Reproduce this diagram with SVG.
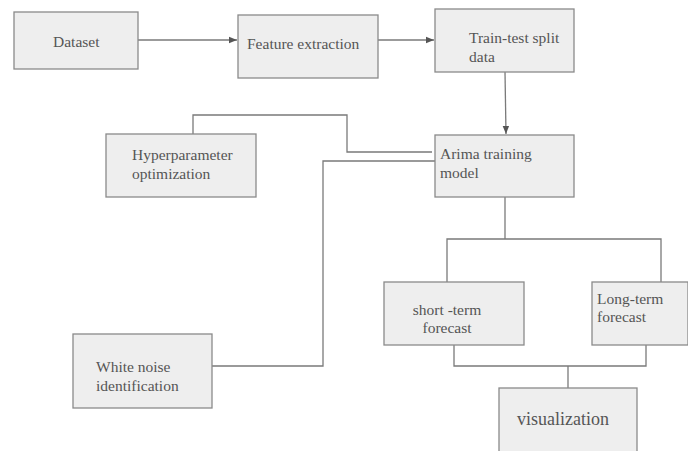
<svg xmlns="http://www.w3.org/2000/svg" width="688" height="451" viewBox="0 0 688 451">
<style>
.box{fill:#eeeeee;stroke:#8a8a8a;stroke-width:1.3}
.t{font-size:15.5px;fill:#555555}
.c{fill:none;stroke:#7a7a7a;stroke-width:1.3}
</style>
<defs>
<marker id="ah" viewBox="0 0 10 10" refX="10" refY="5" markerWidth="8" markerHeight="8" markerUnits="userSpaceOnUse" orient="auto">
<path d="M0,1 L10,5 L0,9 z" fill="#555555"/>
</marker>
</defs>
<rect width="688" height="451" fill="#ffffff"/>
<g id="connectors">
<line class="c" x1="138" y1="40" x2="237" y2="40" marker-end="url(#ah)"/>
<line class="c" x1="378" y1="40" x2="434" y2="40" marker-end="url(#ah)"/>
<line class="c" x1="505" y1="72" x2="506" y2="134" marker-end="url(#ah)"/>
<polyline class="c" points="193,134 193,115 347,115 347,152 432,152"/>
<polyline class="c" points="435,161 323,161 323,366 212,366"/>
<polyline class="c" points="505,197 505,239"/>
<polyline class="c" points="447,282 447,239 661,239 661,282"/>
<polyline class="c" points="454,345 454,366 646,366 646,345"/>
<line class="c" x1="568" y1="366" x2="568" y2="388"/>
</g>
<g font-family="Liberation Serif, Times New Roman, DejaVu Serif, serif">
<g id="dataset">
<rect class="box" x="14" y="12" width="124" height="57"/>
<text class="t" x="53" y="47">Dataset</text>
</g>
<g id="feature-extraction">
<rect class="box" x="238" y="15" width="140" height="63"/>
<text class="t" x="247" y="49">Feature extraction</text>
</g>
<g id="train-test">
<rect class="box" x="435" y="9" width="139" height="63"/>
<text class="t" x="469" y="43">Train-test split</text>
<text class="t" x="469" y="62">data</text>
</g>
<g id="arima">
<rect class="box" x="435" y="135" width="139" height="62"/>
<text class="t" x="440" y="159">Arima training</text>
<text class="t" x="440" y="178">model</text>
</g>
<g id="hyperparameter">
<rect class="box" x="106" y="134" width="150" height="63"/>
<text class="t" x="132" y="160">Hyperparameter</text>
<text class="t" x="132" y="179">optimization</text>
</g>
<g id="white-noise">
<rect class="box" x="73" y="334" width="139" height="74"/>
<text class="t" x="96" y="372">White noise</text>
<text class="t" x="96" y="391">identification</text>
</g>
<g id="short-term">
<rect class="box" x="384" y="282" width="140" height="63"/>
<text class="t" x="447" y="315" text-anchor="middle">short -term</text>
<text class="t" x="447" y="333" text-anchor="middle">forecast</text>
</g>
<g id="long-term">
<rect class="box" x="592" y="282" width="96" height="63"/>
<text class="t" x="597" y="304">Long-term</text>
<text class="t" x="597" y="322">forecast</text>
</g>
<g id="visualization">
<rect class="box" x="499" y="388" width="138" height="70"/>
<text class="t" x="517" y="425" font-size="18" style="font-size:18px">visualization</text>
</g>
</g>
</svg>
